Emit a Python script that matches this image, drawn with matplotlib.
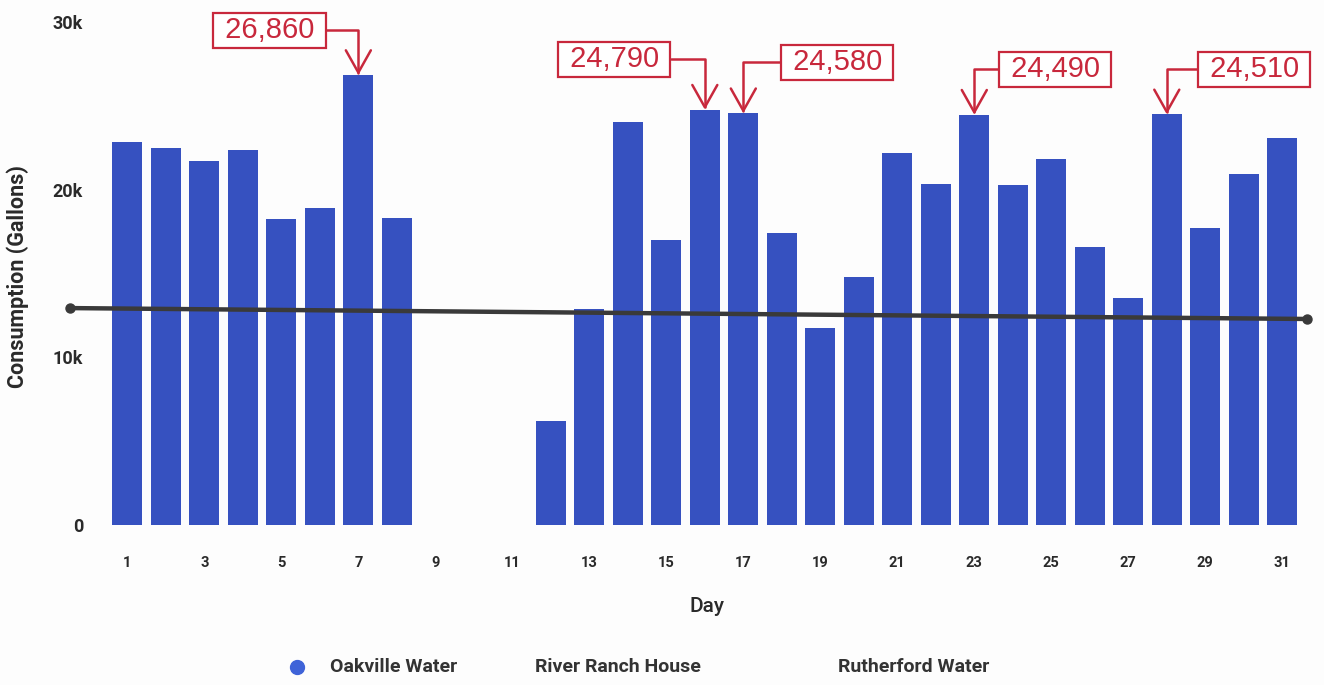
import matplotlib
matplotlib.use("Agg")
import matplotlib.pyplot as plt
from matplotlib.lines import Line2D

# Daily consumption for Oakville Water (gallons); days 9-11 have no reading
days = [1, 2, 3, 4, 5, 6, 7, 8,
        12, 13, 14, 15, 16, 17, 18, 19, 20, 21,
        22, 23, 24, 25, 26, 27, 28, 29, 30, 31]
oakville = [22870, 22520, 21730, 22390, 18270, 18900, 26860, 18300,
            6200, 12900, 24060, 17000, 24790, 24580, 17450, 11760, 14800, 22180,
            20350, 24490, 20300, 21850, 16600, 13550, 24510, 17750, 20930, 23100]

# Trend line endpoints (day, gallons)
trend_x = [-0.48, 31.65]
trend_y = [12950, 12300]

# Days whose values are called out
callout_days = [7, 16, 17, 23, 28]
callout_text_pos = [(4.69, 29550), (13.65, 27800), (19.44, 27640), (25.1, 27200), (30.27, 27200)]

xtick_days = list(range(1, 32, 2))
ytick_vals = [0, 10000, 20000, 30000]
ytick_labels = ["0", "10k", "20k", "30k"]
legend_labels = ["Oakville Water", "River Ranch House", "Rutherford Water"]

bar_color = "#3651c0"
note_color = "#c8283c"
text_color = "#2a2a2a"

fig = plt.figure(figsize=(13.24, 6.85), dpi=100)
fig.patch.set_facecolor("#fdfdfd")
ax = fig.add_axes([65 / 1324, 1 - 525 / 685, 1245 / 1324, 502.5 / 685])
ax.set_facecolor("none")

ax.bar(days, oakville, width=0.78, color=bar_color, zorder=2)
ax.plot(trend_x, trend_y, color="#3a3a3a", lw=3.2, marker="o", markersize=6.5,
        zorder=3, clip_on=False, solid_capstyle="round")

ax.set_xlim(-0.62, 31.72)
ax.set_ylim(0, 30000)
for s in ax.spines.values():
    s.set_visible(False)

ax.set_xticks(xtick_days)
ax.set_xticklabels([str(d) for d in xtick_days], fontfamily="Roboto",
                   fontweight="bold", fontsize=10.5, color=text_color)
ax.tick_params(axis="x", length=0, pad=22)
ax.set_yticks(ytick_vals)
ax.set_yticklabels(ytick_labels, fontfamily="Roboto", fontweight="bold",
                   fontsize=13, color=text_color)
ax.tick_params(axis="y", length=0, pad=-13)

ax.set_xlabel("Day", fontfamily="Roboto", fontweight="medium", fontsize=15,
              color=text_color)
ax.xaxis.set_label_coords((707 - 65) / 1245, -(606 - 525) / 502.5)
ax.xaxis.label.set_va("center")
ax.set_ylabel("Consumption (Gallons)", fontfamily="Roboto", fontweight="bold",
              fontsize=15.5, color=text_color)
ax.yaxis.set_label_coords((18 - 65) / 1245, (525 - 277) / 502.5)
ax.yaxis.label.set_va("center")

# Callouts: boxed values with elbow arrows pointing to the bar tops
for d, (tx, ty) in zip(callout_days, callout_text_pos):
    v = oakville[days.index(d)]
    ax.annotate(f" {v:,} ", xy=(d, v), xytext=(tx, ty),
                textcoords="data", ha="center", va="center",
                fontfamily="Liberation Sans", fontsize=21, color=note_color,
                annotation_clip=False, zorder=5,
                bbox=dict(boxstyle="square,pad=0.12", fc="white",
                          ec=note_color, lw=1.6),
                arrowprops=dict(arrowstyle="->,head_length=0.8,head_width=0.45",
                                connectionstyle="angle,angleA=0,angleB=90,rad=0",
                                color=note_color, lw=1.8, shrinkA=0, shrinkB=0,
                                mutation_scale=20))

# Legend along the bottom
leg_y = 1 - 667 / 685
fig.add_artist(Line2D([297 / 1324], [leg_y], marker="o", markersize=10,
                      color="#3f63d8", transform=fig.transFigure))
for x_px, lab in zip([330, 535, 838], legend_labels):
    fig.text(x_px / 1324, leg_y, lab, ha="left", va="center",
             fontfamily="Roboto", fontweight="bold", fontsize=14,
             color="#333333")

fig.savefig("out.png", dpi=100, facecolor=fig.get_facecolor())
